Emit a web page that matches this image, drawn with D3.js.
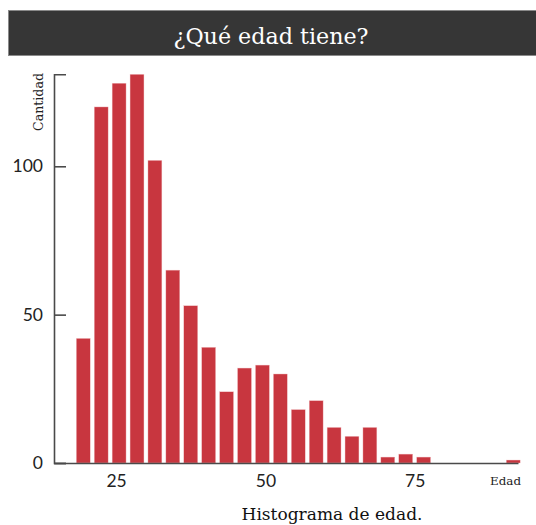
<!DOCTYPE html>
<html>
<head>
<meta charset="utf-8">
<script src="https://cdn.jsdelivr.net/npm/d3@7"></script>
<style>
  html, body { margin: 0; padding: 0; background: #fff; }
  svg { display: block; }
</style>
</head>
<body>
<svg id="chart" width="536" height="525"></svg>
<script>
// ---- data ----
const binStart = [18, 21, 24, 27, 30, 33, 36, 39, 42, 45, 48, 51, 54, 57, 60, 63, 66, 69, 72, 75, 78, 81, 84, 87, 90];
const binWidth = 3;
const counts   = [42, 120, 128, 131, 102, 65, 53, 39, 24, 32, 33, 30, 18, 21, 12, 9, 12, 2, 3, 2, 0, 0, 0, 0, 1];
const yTicks = [0, 50, 100];
const xTicks = [25, 50, 75];
const title = "¿Qué edad tiene?";
const yLabel = "Cantidad";
const xLabel = "Edad";
const caption = "Histograma de edad.";

const bins = binStart.map((x0, i) => ({ x0: x0, x1: x0 + binWidth, n: counts[i] }));

const svg = d3.select("#chart");
const serif = "'DejaVu Serif', serif";

function fit(sel, target) {
  const len = sel.node().getComputedTextLength();
  const fs = parseFloat(sel.attr("font-size"));
  sel.attr("font-size", (fs * target / len).toFixed(2));
}

// title bar
svg.append("rect")
  .attr("x", 8.5).attr("y", 10.5).attr("width", 540).attr("height", 45)
  .attr("fill", "#363636").attr("stroke", "#8a8a8a").attr("stroke-width", 1);
const t = svg.append("text")
  .attr("x", 271).attr("y", 43.5)
  .attr("text-anchor", "middle")
  .attr("font-family", serif).attr("font-weight", 300)
  .attr("font-size", 22).attr("fill", "#fff")
  .text(title);
fit(t, 195);

// scales
const x = d3.scaleLinear().domain([14.6, 92.3]).range([54, 518]);
const y = d3.scaleLinear().domain([0, d3.max(counts)]).range([463, 74.3]);

// bars
svg.append("g").selectAll("rect").data(bins).join("rect")
  .attr("x", d => x(d.x0) + 2)
  .attr("width", d => x(d.x1) - x(d.x0) - 4)
  .attr("y", d => y(d.n))
  .attr("height", d => y(0) - y(d.n))
  .attr("fill", "#c8363f")
  .attr("stroke", "#f3c6c9").attr("stroke-width", 0.4);

// y axis
const gy = svg.append("g").attr("transform", "translate(54,0)")
  .call(d3.axisLeft(y).tickValues(yTicks).tickSizeInner(-12).tickSizeOuter(-12).tickPadding(11));
gy.selectAll("path, line").attr("stroke", "#4a4a4a").attr("stroke-width", 1.6);
gy.selectAll("text").attr("font-family", "Lato, sans-serif").attr("font-size", 17.5).attr("fill", "#222");

// x axis
const gx = svg.append("g").attr("transform", "translate(0,463)")
  .call(d3.axisBottom(x).tickValues(xTicks).tickSize(0).tickPadding(12));
gx.selectAll("path, line").attr("stroke", "#4a4a4a").attr("stroke-width", 1.6);
gx.selectAll("text").attr("font-family", "Lato, sans-serif").attr("font-size", 17.5).attr("fill", "#222");

// axis titles
const yl = svg.append("text")
  .attr("transform", "translate(42.5,73) rotate(-90)")
  .attr("text-anchor", "end")
  .attr("font-family", serif).attr("font-size", 12).attr("fill", "#222")
  .text(yLabel);
fit(yl, 58);

const xl = svg.append("text")
  .attr("x", 521).attr("y", 485)
  .attr("text-anchor", "end")
  .attr("font-family", serif).attr("font-size", 12).attr("fill", "#222")
  .text(xLabel);
fit(xl, 31);

const cap = svg.append("text")
  .attr("x", 332).attr("y", 520)
  .attr("text-anchor", "middle")
  .attr("font-family", serif).attr("font-size", 18).attr("fill", "#111")
  .text(caption);
fit(cap, 181);
</script>
</body>
</html>
